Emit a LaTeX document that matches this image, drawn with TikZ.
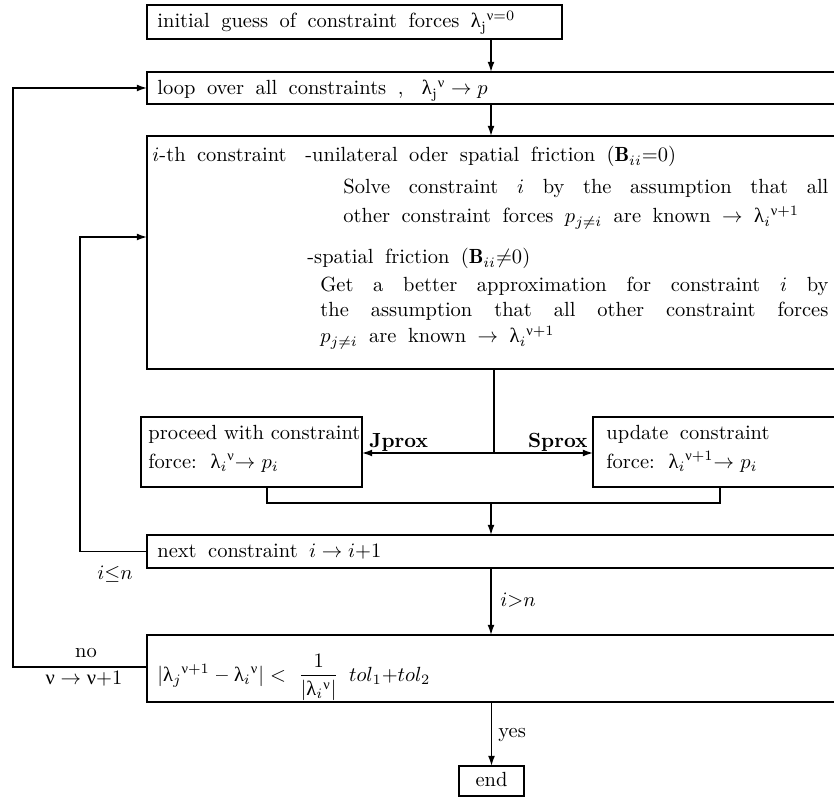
\documentclass[tikz,border=0pt]{standalone}
\usepackage{amsmath}
\usepackage{fontspec}
\newfontfamily\grk{Liberation Serif}
\usetikzlibrary{arrows.meta,fit}
\newcommand{\lam}{\text{\grk λ}}
\newcommand{\nuu}{\text{\grk ν}}
\newcommand{\widesp}{\spaceskip=5.6pt plus 3pt minus 1pt\relax}
\newcommand{\normsp}{\spaceskip=0pt\relax}
\newlength\pxu
\setlength\pxu{0.488pt}
\begin{document}
\begin{tikzpicture}[x=0.488pt,y=-0.488pt,
  box/.style={draw,line width=0.8pt,inner sep=0pt,outer sep=0pt},
  txt/.style={anchor=base west,inner sep=0pt,font=\widesp},
  lbl/.style={anchor=base,inner sep=0pt},
  ln/.style={line width=0.7pt},
  arr/.style={line width=0.7pt,-{Latex[length=5pt,width=3.4pt]}}]
\useasboundingbox (0,0) rectangle (834,799);
\clip (0,0) rectangle (834,799);
% boxes
\node[box,fit={(147,5)(562,39)}] (b1) {};
\node[box,fit={(147,72)(880,104)}] (b2) {};
\node[box,fit={(147,136)(880,369)}] (b3) {};
\node[box,fit={(141,417)(362,487)}] (bl) {};
\node[box,fit={(593,417)(880,487)}] (br) {};
\node[box,fit={(147,535)(880,568)}] (b4) {};
\node[box,fit={(147,635)(880,702)}] (b5) {};
\node[box,fit={(459,766)(524,796)}] (b6) {};
% texts
\node[txt] (t1) at (157,28) {initial guess of constraint forces $\lam_{\mathrm{j}}{}^{\nuu=0}$};
\node[txt] (t2) at (157,95) {loop over all constraints ,\hspace{9pt}$\lam_{\mathrm{j}}{}^{\nuu}\rightarrow p$};
\node[txt] (t3a) at (152,162) {$i$-th constraint};
\node[txt] (t3b) at (305,162) {-unilateral oder spatial friction ($\mathbf{B}_{ii}{=}0$)};
\node[txt] (t3c) at (343,194) {\makebox[485\pxu][s]{Solve constraint $i$ by the assumption that all}};
\node[txt] (t3d) at (343,223) {other constraint forces $p_{j\neq i}$ are known $\rightarrow$ $\lam_i{}^{\nuu+1}$};
\node[txt] (t3e) at (307,264) {-spatial friction ($\mathbf{B}_{ii}{\neq}0$)};
\node[txt] (t3f) at (320,292) {\makebox[508\pxu][s]{Get a better approximation for constraint $i$ by}};
\node[txt] (t3g) at (320,317) {\makebox[508\pxu][s]{the assumption that all other constraint forces}};
\node[txt] (t3h) at (320,343) {$p_{j\neq i}$ are known $\rightarrow$ $\lam_i{}^{\nuu+1}$};
\node[txt,font=\normsp] (tl1) at (148,440) {proceed with constraint};
\node[txt] (tl2) at (148,468) {force: $\lam_i{}^{\nuu}{\rightarrow}\hspace{3pt}p_i$};
\node[txt] (tr1) at (606,440) {update constraint};
\node[txt] (tr2) at (606,468) {force: $\lam_i{}^{\nuu+1}{\rightarrow}\hspace{3pt}p_i$};
\node[txt] (t4) at (157,557) {next constraint $i\rightarrow i{+}1$};
\node[txt] (t5) at (157,681) {$|\lam_j{}^{\nuu+1}$\hspace{3pt}\textbf{--}\hspace{3pt}$\lam_i{}^{\nuu}|\hspace{3pt}{<}\hspace{6pt}\dfrac{1}{|\lam_i{}^{\nuu}|}\hspace{5pt}tol_1{+}tol_2$};
\node[lbl] (t6) at (491.5,786) {end};
% connectors
\coordinate (xa) at (491,0);
\coordinate (sp) at (494,453);
\coordinate (jn) at (491,503);
\coordinate (xl) at (267,0);
\coordinate (xr) at (720,0);
\coordinate (li) at (80,0);
\coordinate (lo) at (13,0);
\coordinate (in3) at (147,237);
\coordinate (o5) at (147,667);
\draw[arr] (b1.south -| xa) -- (b2.north -| xa);
\draw[arr] (b2.south -| xa) -- (b3.north -| xa);
\draw[ln] (b3.south -| sp) -- (sp);
\draw[arr] (sp) -- (bl.east |- sp);
\draw[arr] (sp) -- (br.west |- sp);
\node[txt] (jp) at (369,447) {\textbf{Jprox}};
\node[txt,anchor=base east] (spx) at (588,447) {\textbf{Sprox}};
\draw[ln] (bl.south -| xl) |- (jn) -| (br.south -| xr);
\draw[arr] (jn) -- (b4.north -| jn);
\draw[arr] (b4.south -| xa) -- (b5.north -| xa);
\node[txt] (gt) at (500,606) {$i{>}n$};
\draw[arr] (b5.south -| b6.north) -- (b6.north);
\node[txt] (yes) at (498,737) {yes};
\draw[arr] (b4.west) -- (b4.west -| li) -- (li |- in3) -- (in3);
\node[lbl] (le) at (115,579) {$i{\leq}n$};
\draw[arr] (o5) -- (o5 -| lo) -- (lo |- b2.west) -- (b2.west);
\node[lbl] (no) at (86,657) {no};
\node[lbl] (nu) at (84,684) {$\nuu\rightarrow\nuu{+}1$};
\end{tikzpicture}
\end{document}
